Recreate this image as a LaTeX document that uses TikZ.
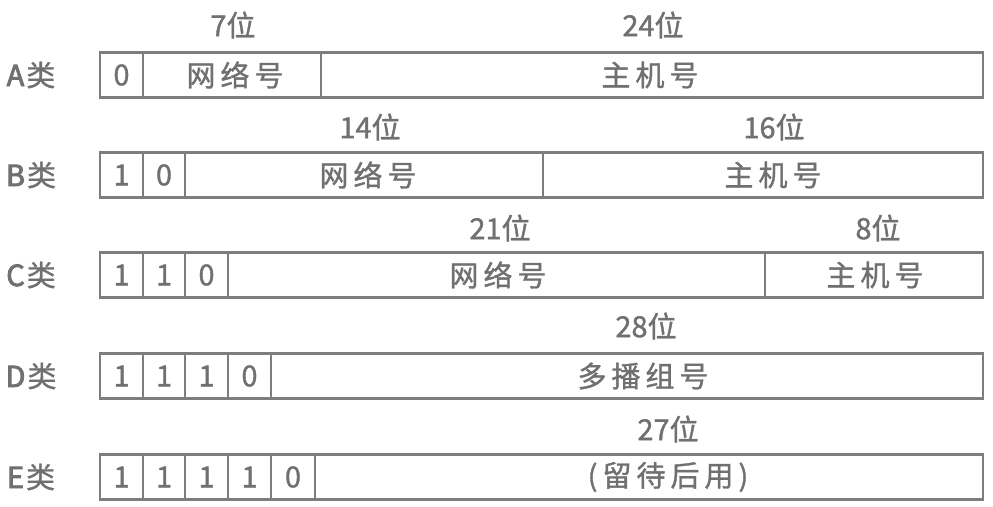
\documentclass[tikz,border=0pt]{standalone}
\usepackage{fontspec}
\setmainfont{Noto Sans CJK SC}[FakeBold=1.2]
\newfontfamily\latb{Noto Sans CJK SC}[FakeBold=3]
\definecolor{lg}{RGB}{125,125,125}
\definecolor{tg}{RGB}{112,112,112}
\newcommand\cjs{\hspace{5pt}}
\newcommand\bigfs{\fontsize{29}{32}\selectfont}
\tikzset{
  fld/.style={draw=lg, line width=2.8pt, minimum height=45pt, inner sep=0pt, outer sep=0pt, anchor=west, font=\bigfs, text=tg},
  txt/.style={text=tg, font=\bigfs, inner sep=0pt},
}
\begin{document}
\begin{tikzpicture}[x=1pt,y=-1pt]
\useasboundingbox (0,0) rectangle (993,506);
% Row A
\node[txt] (cA) at (31,75) {{\latb A}\hspace{2pt}类};
\node[fld, minimum width=43pt] (a1) at (100,75) {0};
\node[fld, minimum width=178pt] (anet) at (143,75) {};
\node[fld, minimum width=662pt] (ahost) at (321,75) {};
\node[txt] (anetT) at (235,75) {网\cjs 络\cjs 号};
\node[txt] (ahostT) at (650,75) {主\cjs 机\cjs 号};
\node[txt] (anetB) at (233,25) {7位};
\node[txt] (ahostB) at (653,25) {24位};
% Row B
\node[txt] (cB) at (31,175) {{\latb B}\hspace{2pt}类};
\node[fld, minimum width=43pt] (b1) at (100,175) {1};
\node[fld, minimum width=42pt] (b2) at (143,175) {0};
\node[fld, minimum width=358pt] (bnet) at (185,175) {};
\node[fld, minimum width=440pt] (bhost) at (543,175) {};
\node[txt] (bnetT) at (368,175) {网\cjs 络\cjs 号};
\node[txt] (bhostT) at (773,175) {主\cjs 机\cjs 号};
\node[txt] (bnetB) at (370,127) {14位};
\node[txt] (bhostB) at (774,127) {16位};
% Row C
\node[txt] (cC) at (31,275) {{\latb C}\hspace{2pt}类};
\node[fld, minimum width=43pt] (c1) at (100,275) {1};
\node[fld, minimum width=42pt] (c2) at (143,275) {1};
\node[fld, minimum width=43pt] (c3) at (185,275) {0};
\node[fld, minimum width=537pt] (cnet) at (228,275) {};
\node[fld, minimum width=218pt] (chost) at (765,275) {};
\node[txt] (cnetT) at (498,275) {网\cjs 络\cjs 号};
\node[txt] (chostT) at (875,275) {主\cjs 机\cjs 号};
\node[txt] (cnetB) at (500,228) {21位};
\node[txt] (chostB) at (878,228) {8位};
% Row D
\node[txt] (cD) at (31,376) {{\latb D}\hspace{2pt}类};
\node[fld, minimum width=43pt] (d1) at (100,376) {1};
\node[fld, minimum width=42pt] (d2) at (143,376) {1};
\node[fld, minimum width=43pt] (d3) at (185,376) {1};
\node[fld, minimum width=43pt] (d4) at (228,376) {0};
\node[fld, minimum width=712pt] (dgrp) at (271,376) {};
\node[txt] (dgrpT) at (643,376) {多\cjs 播\cjs 组\cjs 号};
\node[txt] (dgrpB) at (646,326) {28位};
% Row E
\node[txt] (cE) at (31,477) {{\latb E}\hspace{2pt}类};
\node[fld, minimum width=43pt] (e1) at (100,477) {1};
\node[fld, minimum width=42pt] (e2) at (143,477) {1};
\node[fld, minimum width=43pt] (e3) at (185,477) {1};
\node[fld, minimum width=43pt] (e4) at (228,477) {1};
\node[fld, minimum width=44pt] (e5) at (271,477) {0};
\node[fld, minimum width=668pt] (eres) at (315,477) {};
\node[txt] (eresT) at (668,477) {(\cjs 留\cjs 待\cjs 后\cjs 用\cjs )};
\node[txt] (eresB) at (668,429) {27位};
\end{tikzpicture}
\end{document}
